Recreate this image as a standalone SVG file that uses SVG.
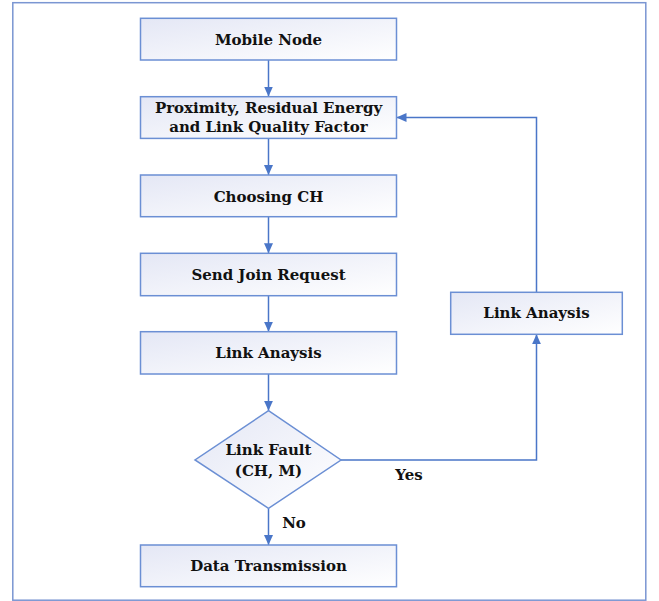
<svg xmlns="http://www.w3.org/2000/svg" width="659" height="601" viewBox="0 0 659 601">
<style>
.box{fill:url(#g);stroke:#6b8fd4;stroke-width:1.5}
.t{font-family:"DejaVu Serif","Liberation Serif",serif;font-weight:bold;font-size:15px;fill:#111;text-anchor:middle}
.c{fill:none;stroke:#4a76c8;stroke-width:1.5}
</style>
<defs>
<linearGradient id="g" x1="0" y1="0" x2="1" y2="1">
<stop offset="0" stop-color="#e4e7f5"/>
<stop offset="1" stop-color="#ffffff"/>
</linearGradient>
<marker id="a" viewBox="0 0 10 10" refX="10" refY="5" markerWidth="10" markerHeight="10" markerUnits="userSpaceOnUse" orient="auto">
<path d="M0,0.5 L10,5 L0,9.5 z" fill="#4a76c8"/>
</marker>
</defs>
<rect x="12.8" y="2.7" width="633" height="597.5" fill="#fff" stroke="#7a96d2" stroke-width="1.5"/>
<g id="connectors">
<line class="c" x1="268.5" y1="60" x2="268.5" y2="96.5" marker-end="url(#a)"/>
<line class="c" x1="268.5" y1="138.5" x2="268.5" y2="175" marker-end="url(#a)"/>
<line class="c" x1="268.5" y1="216.7" x2="268.5" y2="253.3" marker-end="url(#a)"/>
<line class="c" x1="268.5" y1="295.7" x2="268.5" y2="331.7" marker-end="url(#a)"/>
<line class="c" x1="268.5" y1="374" x2="268.5" y2="410.7" marker-end="url(#a)"/>
<line class="c" x1="268.5" y1="508.3" x2="268.5" y2="545" marker-end="url(#a)"/>
<polyline class="c" points="341,460 536.5,460 536.5,334.3" marker-end="url(#a)"/>
<polyline class="c" points="536.5,292.3 536.5,117.5 396.5,117.5" marker-end="url(#a)"/>
<text class="t" x="409" y="480">Yes</text>
<text class="t" x="294" y="528">No</text>
</g>
<g id="n1"><rect class="box" x="140.5" y="18.3" width="256" height="41.7"/><text class="t" x="268.5" y="44.5">Mobile Node</text></g>
<g id="n2"><rect class="box" x="140.5" y="96.7" width="256" height="41.7"/><text class="t" x="268.5" y="113">Proximity, Residual Energy</text><text class="t" x="268.5" y="132">and Link Quality Factor</text></g>
<g id="n3"><rect class="box" x="140.5" y="175" width="256" height="41.7"/><text class="t" x="268.5" y="201.5">Choosing CH</text></g>
<g id="n4"><rect class="box" x="140.5" y="253.3" width="256" height="42.4"/><text class="t" x="268.5" y="279.5">Send Join Request</text></g>
<g id="n5"><rect class="box" x="140.5" y="331.7" width="256" height="42.3"/><text class="t" x="268.5" y="358">Link Anaysis</text></g>
<g id="n6"><polygon class="box" points="268.5,410.7 341,460 268.5,508.3 195,460"/><text class="t" x="268.5" y="455">Link Fault</text><text class="t" x="268.5" y="476">(CH, M)</text></g>
<g id="n7"><rect class="box" x="140.5" y="545" width="256" height="41.7"/><text class="t" x="268.5" y="571">Data Transmission</text></g>
<g id="n8"><rect class="box" x="450.7" y="292.3" width="171.6" height="42"/><text class="t" x="536.5" y="318">Link Anaysis</text></g>
</svg>
